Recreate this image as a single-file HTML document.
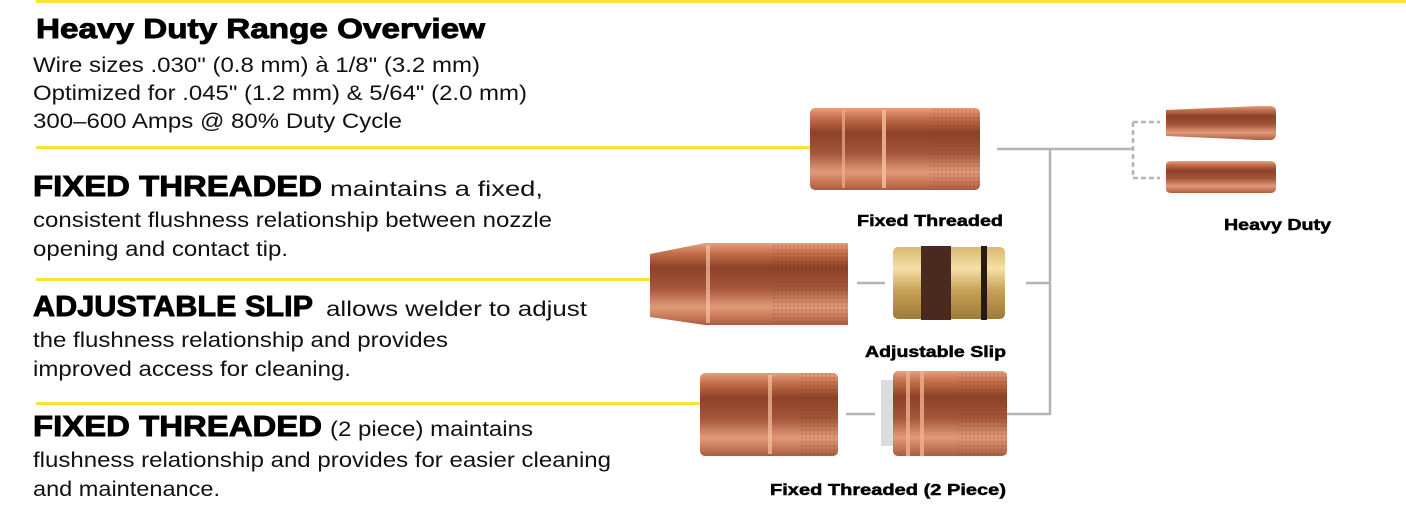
<!DOCTYPE html>
<html><head><meta charset="utf-8"><style>
html,body{margin:0;padding:0;background:#fff;width:1406px;height:506px;overflow:hidden}
svg{display:block}
.t{font-family:"Liberation Sans",Arial,sans-serif;fill:#111}
.h{font-family:"Liberation Sans",Arial,sans-serif;font-weight:bold;fill:#000;stroke:#000;stroke-width:0.9}
.l{font-family:"Liberation Sans",Arial,sans-serif;font-weight:bold;fill:#000;stroke:#000;stroke-width:0.5;font-size:16px}
</style></head><body>
<svg width="1406" height="506" viewBox="0 0 1406 506" xmlns="http://www.w3.org/2000/svg">
<defs>
<linearGradient id="cu" x1="0" y1="0" x2="0" y2="1">
<stop offset="0" stop-color="#e8a080"/><stop offset="0.12" stop-color="#c4704c"/>
<stop offset="0.3" stop-color="#8e4128"/><stop offset="0.55" stop-color="#a4553a"/>
<stop offset="0.78" stop-color="#e09a78"/><stop offset="0.9" stop-color="#c8785a"/>
<stop offset="1" stop-color="#a85c40"/></linearGradient>
<linearGradient id="br" x1="0" y1="0" x2="0" y2="1">
<stop offset="0" stop-color="#d8b870"/><stop offset="0.3" stop-color="#f4e0a8"/>
<stop offset="0.6" stop-color="#c9a258"/><stop offset="1" stop-color="#9e7a38"/></linearGradient>
<pattern id="kn" width="4" height="4" patternUnits="userSpaceOnUse">
<rect width="4" height="4" fill="none"/><circle cx="2" cy="2" r="0.9" fill="#7a3520" opacity="0.35"/></pattern>
</defs>

<!-- yellow lines -->
<g fill="#fde23a">
<rect x="36" y="0" width="1370" height="3"/>
<rect x="36" y="146" width="776" height="3"/>
<rect x="36" y="278" width="616" height="3"/>
<rect x="36" y="402" width="666" height="3"/>
</g>

<!-- gray connectors -->
<g stroke="#b4b4b4" stroke-width="2.5" fill="none">
<path d="M997 149 H1133 M1050 149 V415 M1026 283 H1050 M999 414 H1050 M857 283 H885 M846 414 H875"/>
<path d="M1133 122 V178 M1133 122 H1160 M1133 178 H1160" stroke-dasharray="5 3"/>
</g>

<!-- Fixed threaded nozzle -->
<rect x="810" y="108" width="170" height="82" rx="5" fill="url(#cu)"/>
<rect x="930" y="108" width="50" height="82" rx="4" fill="url(#kn)"/>
<rect x="842" y="110" width="3" height="78" fill="#f0b090" opacity=".7"/>
<rect x="882" y="110" width="4" height="78" fill="#f6c0a0" opacity=".8"/>

<!-- heavy duty tips -->
<path d="M1166 110 L1258 106 H1270 Q1276 106 1276 112 V134 Q1276 140 1270 140 H1258 L1166 136 Z" fill="url(#cu)"/>
<path d="M1166 165 Q1166 161 1172 161 H1270 Q1276 161 1276 167 V188 Q1276 193 1270 193 H1172 Q1166 193 1166 189 Z" fill="url(#cu)"/>

<!-- adjustable slip nozzle -->
<path d="M650 254 L705 243 H848 V325 H705 L650 317 Z" fill="url(#cu)"/>
<rect x="772" y="243" width="76" height="82" fill="url(#kn)"/>
<rect x="706" y="245" width="4" height="78" fill="#f6c0a0" opacity=".7"/>
<!-- slip body -->
<rect x="893" y="247" width="112" height="72" rx="5" fill="url(#br)"/>
<rect x="921" y="246" width="30" height="74" fill="#4a2a1e"/>
<rect x="981" y="246" width="6" height="74" fill="#2a1a14"/>

<!-- 2 piece nozzle -->
<rect x="700" y="373" width="138" height="83" rx="5" fill="url(#cu)"/>
<rect x="800" y="373" width="38" height="83" fill="url(#kn)"/>
<rect x="768" y="375" width="4" height="79" fill="#f6c0a0" opacity=".7"/>
<rect x="881" y="380" width="14" height="66" fill="#dcdcdc"/>
<rect x="893" y="371" width="114" height="85" rx="5" fill="url(#cu)"/>
<rect x="958" y="371" width="49" height="85" fill="url(#kn)"/>
<rect x="906" y="371" width="4" height="85" fill="#f0b090" opacity=".8"/>
<rect x="920" y="371" width="4" height="85" fill="#f0b090" opacity=".8"/>

<!-- labels -->
<text class="l" x="857" y="226" textLength="146" lengthAdjust="spacingAndGlyphs">Fixed Threaded</text>
<text class="l" x="1224" y="230" textLength="107" lengthAdjust="spacingAndGlyphs">Heavy Duty</text>
<text class="l" x="865" y="357" textLength="141" lengthAdjust="spacingAndGlyphs">Adjustable Slip</text>
<text class="l" x="770" y="495" textLength="236" lengthAdjust="spacingAndGlyphs">Fixed Threaded (2 Piece)</text>

<!-- left text -->
<text class="h" x="36" y="38" font-size="28" textLength="449" lengthAdjust="spacingAndGlyphs">Heavy Duty Range Overview</text>
<text class="t" x="33" y="72" font-size="21" textLength="447" lengthAdjust="spacingAndGlyphs">Wire sizes .030" (0.8 mm) à 1/8" (3.2 mm)</text>
<text class="t" x="33" y="100" font-size="21" textLength="494" lengthAdjust="spacingAndGlyphs">Optimized for .045" (1.2 mm) &amp; 5/64" (2.0 mm)</text>
<text class="t" x="33" y="128" font-size="21" textLength="369" lengthAdjust="spacingAndGlyphs">300–600 Amps @ 80% Duty Cycle</text>

<text class="h" x="33" y="196" font-size="29" textLength="289" lengthAdjust="spacingAndGlyphs">FIXED THREADED</text>
<text class="t" x="330" y="196" font-size="21" textLength="213" lengthAdjust="spacingAndGlyphs">maintains a fixed,</text>
<text class="t" x="33" y="227" font-size="21" textLength="519" lengthAdjust="spacingAndGlyphs">consistent flushness relationship between nozzle</text>
<text class="t" x="33" y="256" font-size="21" textLength="255" lengthAdjust="spacingAndGlyphs">opening and contact tip.</text>

<text class="h" x="33" y="316" font-size="29" textLength="280" lengthAdjust="spacingAndGlyphs">ADJUSTABLE SLIP</text>
<text class="t" x="326" y="316" font-size="21" textLength="261" lengthAdjust="spacingAndGlyphs">allows welder to adjust</text>
<text class="t" x="33" y="347" font-size="21" textLength="415" lengthAdjust="spacingAndGlyphs">the flushness relationship and provides</text>
<text class="t" x="33" y="376" font-size="21" textLength="318" lengthAdjust="spacingAndGlyphs">improved access for cleaning.</text>

<text class="h" x="33" y="436" font-size="29" textLength="289" lengthAdjust="spacingAndGlyphs">FIXED THREADED</text>
<text class="t" x="330" y="436" font-size="21" textLength="203" lengthAdjust="spacingAndGlyphs">(2 piece) maintains</text>
<text class="t" x="33" y="467" font-size="21" textLength="578" lengthAdjust="spacingAndGlyphs">flushness relationship and provides for easier cleaning</text>
<text class="t" x="33" y="496" font-size="21" textLength="187" lengthAdjust="spacingAndGlyphs">and maintenance.</text>
</svg>
</body></html>
